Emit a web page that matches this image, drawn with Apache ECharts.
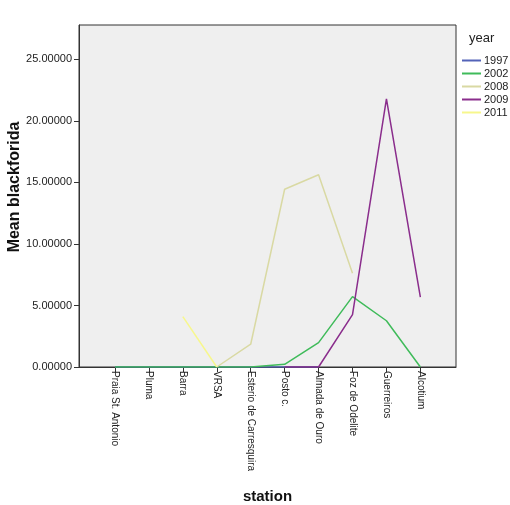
<!DOCTYPE html>
<html>
<head>
<meta charset="utf-8">
<script src="https://cdn.jsdelivr.net/npm/echarts@6/dist/echarts.min.js"></script>
<style>
  html, body { margin: 0; padding: 0; background: #fff; }
  #chart { width: 510px; height: 505px; }
</style>
</head>
<body>
<div id="chart"></div>
<script>
// stations along the x axis
const stations = ['Praia St. Antonio', 'Pluma', 'Barra', 'VRSA', 'Esterio de Carresquira',
  'Posto c.', 'Almada de Ouro', 'Foz de Odelite', 'Guerreiros', 'Alcotium'];

// mean blackforida per year (null = no data)
const y1997 = [0, 0, 0, 0, 0, 0, 0, null, null, null];
const y2002 = [0, 0, 0, 0, 0, 0.22, 1.98, 5.72, 3.76, 0];
const y2008 = [null, null, null, 0, 1.85, 14.45, 15.63, 7.62, null, null];
const y2009 = [null, null, null, null, null, 0, 0, 4.25, 21.8, 5.67];
const y2011 = [null, null, 4.1, 0, null, null, null, null, null, null];

const yTicks = [0, 5, 10, 15, 20, 25];

const years = ['1997', '2002', '2008', '2009', '2011'];
const colors = ['#5363b8', '#3fbb5a', '#d9d9a3', '#8a2d8c', '#f7f78c'];
const values = [y1997, y2002, y2008, y2009, y2011];

const chart = echarts.init(document.getElementById('chart'));

const idx = stations.map((s, i) => i);

const option = {
  animation: false,
  textStyle: { fontFamily: 'Liberation Sans, Arial, sans-serif' },
  grid: {
    left: 79, right: 54, top: 25, bottom: 138,
    outerBoundsMode: 'none',
    containLabel: false,
    show: true,
    backgroundColor: '#efefef',
    borderColor: '#333',
    borderWidth: 1
  },
  legend: {
    orient: 'vertical',
    left: 457,
    top: 50,
    icon: 'rect',
    itemWidth: 19,
    itemHeight: 2,
    itemGap: 2,
    textStyle: { fontSize: 11, color: '#222', padding: [0, 0, 0, -2] },
    data: years
  },
  graphic: [{
    type: 'text',
    left: 469,
    top: 32,
    style: { text: 'year', fontSize: 13, fill: '#222', fontFamily: 'Liberation Sans, Arial, sans-serif' }
  }],
  xAxis: {
    type: 'value',
    min: -1.06,
    max: 10.05,
    name: 'station',
    nameLocation: 'middle',
    nameGap: 122,
    nameTextStyle: { fontSize: 15, fontWeight: 'bold', color: '#111' },
    axisLine: { show: true, onZero: false, lineStyle: { color: '#333' } },
    axisTick: { show: true, length: 5, customValues: idx, lineStyle: { color: '#333' } },
    axisLabel: {
      customValues: idx,
      rotate: -90,
      fontSize: 10,
      color: '#222',
      margin: 4,
      formatter: v => stations[Math.round(v)]
    },
    splitLine: { show: false }
  },
  yAxis: {
    type: 'value',
    min: 0,
    max: 27.8,
    interval: 5,
    name: 'Mean blackforida',
    nameLocation: 'middle',
    nameGap: 56,
    nameMoveOverlap: false,
    nameTextStyle: { fontSize: 16, fontWeight: 'bold', color: '#111', padding: [0, 0, 0, 18] },
    axisLine: { show: true, onZero: false, lineStyle: { color: '#333' } },
    axisTick: { show: true, length: 5, customValues: yTicks, lineStyle: { color: '#333' } },
    axisLabel: {
      customValues: yTicks,
      fontSize: 11,
      color: '#222',
      margin: 7,
      formatter: v => v.toFixed(5)
    },
    splitLine: { show: false }
  },
  series: years.map((yr, k) => ({
    name: yr,
    type: 'line',
    symbol: 'none',
    connectNulls: false,
    color: colors[k],
    lineStyle: { width: 1.5, color: colors[k] },
    data: values[k].map((v, i) => [i, v])
  }))
};

chart.setOption(option);
</script>
</body>
</html>
